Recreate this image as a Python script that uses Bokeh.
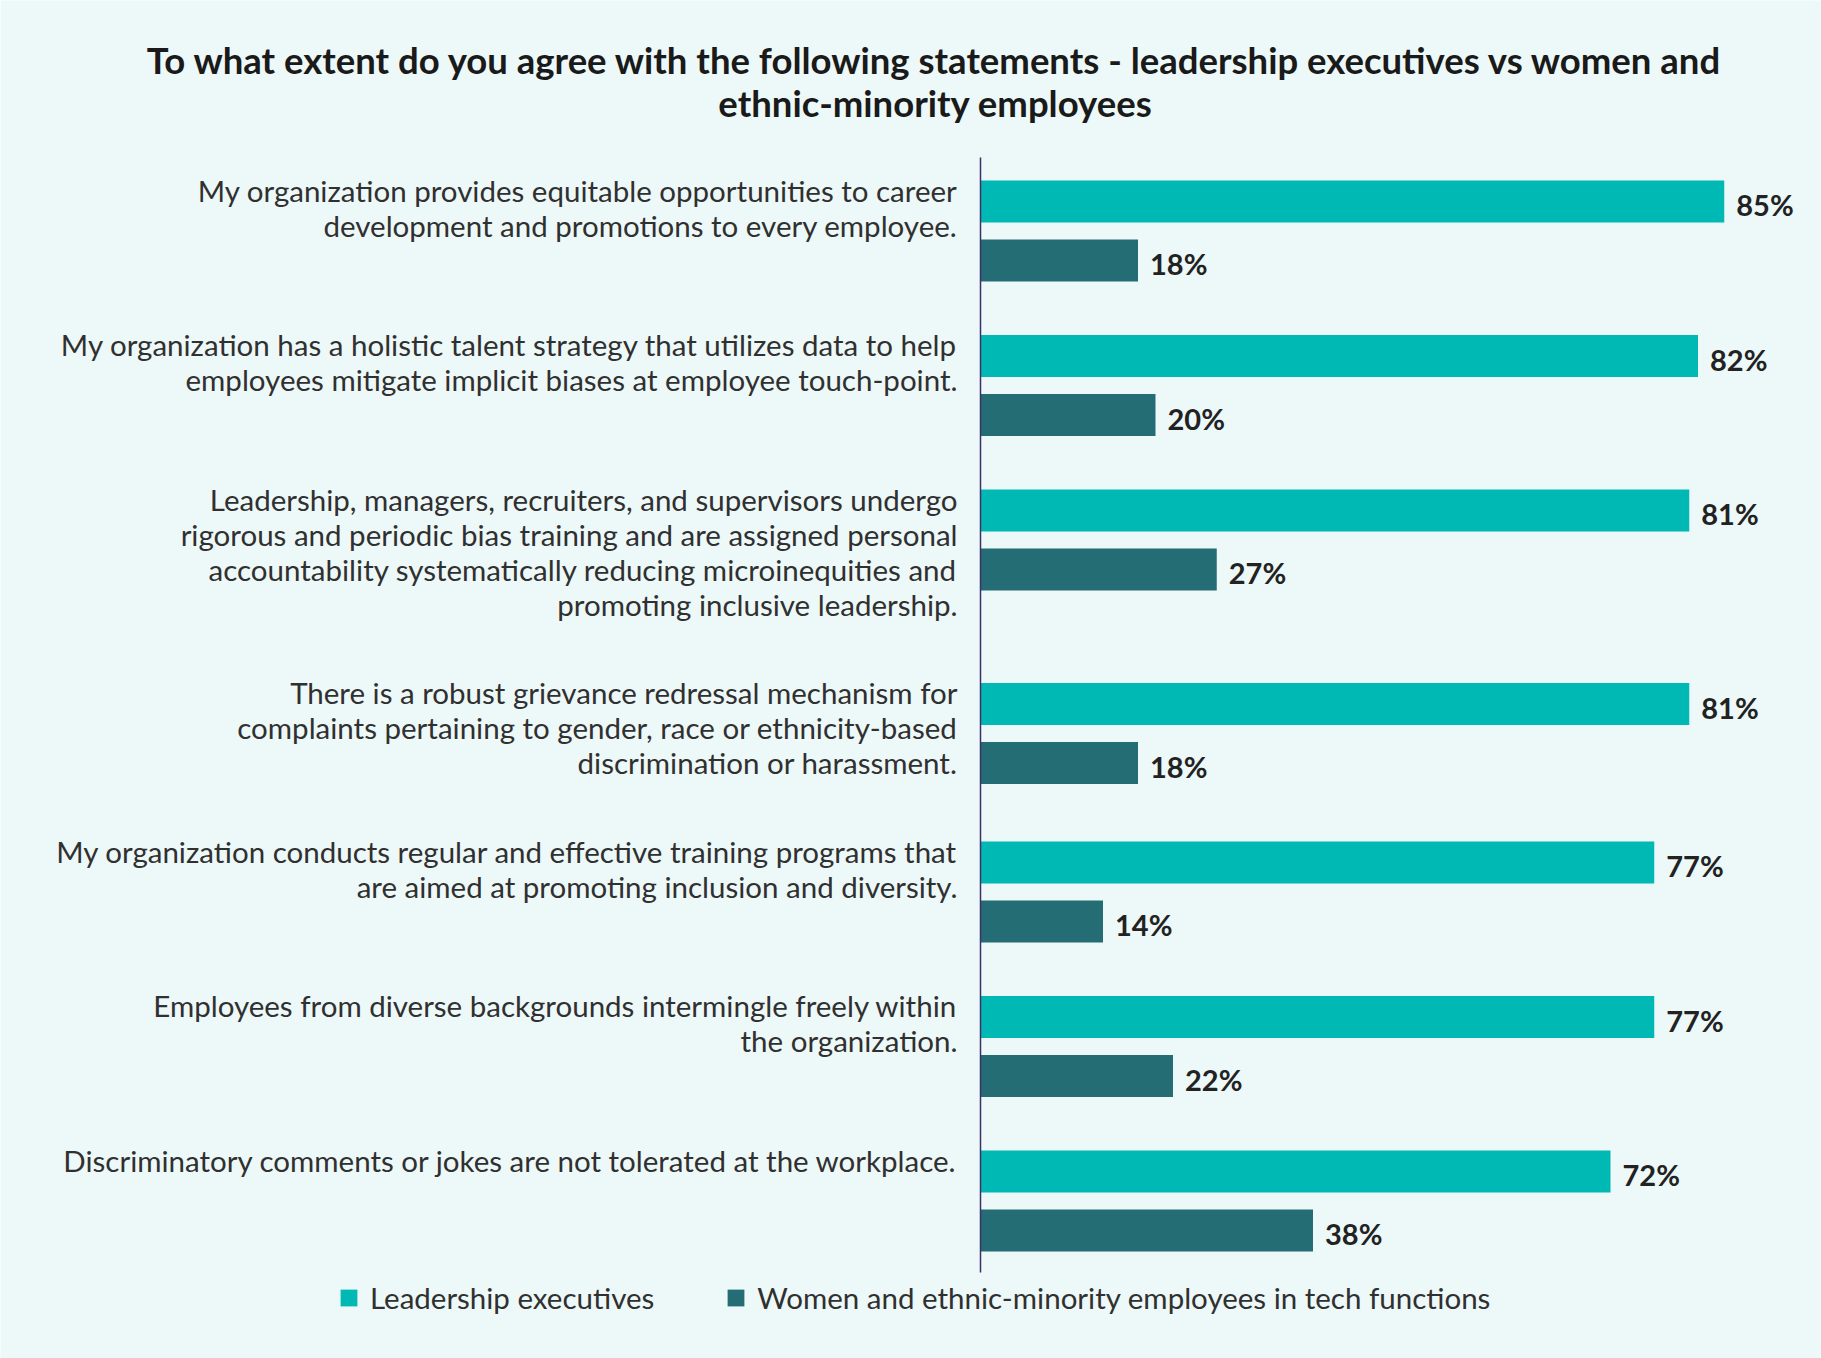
from bokeh.plotting import figure
from bokeh.models import Range1d, Legend, LegendItem, ColumnDataSource
from bokeh.core.properties import value
from bokeh.embed import file_html
from bokeh.resources import INLINE

# ---------------- data ----------------
TITLE = ("To what extent do you agree with the following statements - leadership executives vs women and\n"
         "ethnic-minority employees")

statements = [
    "My organization provides equitable opportunities to career\ndevelopment and promotions to every employee.",
    "My organization has a holistic talent strategy that utilizes data to help\nemployees mitigate implicit biases at employee touch-point.",
    "Leadership, managers, recruiters, and supervisors undergo\nrigorous and periodic bias training and are assigned personal\naccountability systematically reducing microinequities and\npromoting inclusive leadership.",
    "There is a robust grievance redressal mechanism for\ncomplaints pertaining to gender, race or ethnicity-based\ndiscrimination or harassment.",
    "My organization conducts regular and effective training programs that\nare aimed at promoting inclusion and diversity.",
    "Employees from diverse backgrounds intermingle freely within\nthe organization.",
    "Discriminatory comments or jokes are not tolerated at the workplace.",
]
leadership = [85, 82, 81, 81, 77, 77, 72]
women = [18, 20, 27, 18, 14, 22, 38]
series_names = ["Leadership executives", "Women and ethnic-minority employees in tech functions"]

# ---------------- style / layout ----------------
BG = "#EDF8F8"
C_LEAD = "#00B8B4"
C_WOMEN = "#246D75"
TEXT = "#303030"
FONT = "Lato"

W, H = 1821, 1358
PX_PER_PCT = 8.75
AXIS_PX = 980          # position of the zero line inside the figure
BAR_H = 42
BAR_GAP = 17
LINE_H = 35
GROUP_PAD = 53.5
FIRST_TOP = 180

# group tops derived from label heights
tops = []
t = FIRST_TOP
for s in statements:
    tops.append(t)
    n = s.count("\n") + 1
    t += max(2 * BAR_H + BAR_GAP, n * LINE_H) + GROUP_PAD

lead_y = [tp + BAR_H / 2 for tp in tops]
women_y = [tp + BAR_H * 1.5 + BAR_GAP for tp in tops]

src_lead = ColumnDataSource(dict(y=lead_y, v=leadership, lbl=[f"{v}%" for v in leadership]))
src_women = ColumnDataSource(dict(y=women_y, v=women, lbl=[f"{v}%" for v in women]))
src_stmt = ColumnDataSource(dict(y=tops, text=statements, x=[0] * len(statements)))

p = figure(width=W, height=H, output_backend="svg", toolbar_location=None,
           x_range=Range1d(-AXIS_PX / PX_PER_PCT, (W - AXIS_PX) / PX_PER_PCT),
           y_range=Range1d(H, 0),
           min_border=0)
p.background_fill_color = BG
p.border_fill_color = BG
p.outline_line_color = None
p.xaxis.visible = False
p.yaxis.visible = False
p.xgrid.visible = False
p.ygrid.visible = False

r_lead = p.hbar(y="y", left=0, right="v", height=BAR_H, source=src_lead,
                fill_color=C_LEAD, line_color=None)
r_women = p.hbar(y="y", left=0, right="v", height=BAR_H, source=src_women,
                 fill_color=C_WOMEN, line_color=None)

# zero line
p.segment(x0=[0], x1=[0], y0=[tops[0] - 23], y1=[women_y[-1] + BAR_H / 2 + 21],
          line_color="#3F2D6E", line_width=1.5)

# value labels
for src in (src_lead, src_women):
    p.text(x="v", y="y", text="lbl", source=src, x_offset=12, y_offset=3,
           text_align="left", text_baseline="middle",
           text_font=value(FONT), text_font_style="bold", text_font_size="29px",
           text_color="#222222")

# statement labels
p.text(x="x", y="y", text="text", source=src_stmt, x_offset=-23, y_offset=-8,
       text_align="right", text_baseline="top", text_line_height=1.0,
       text_font=value(FONT), text_font_size="29.5px", text_color=TEXT)

# title
p.text(x=[(935 - AXIS_PX) / PX_PER_PCT], y=[37], text=[TITLE],
       text_align="center", text_baseline="top", text_line_height=0.98,
       text_font=value(FONT), text_font_style="bold", text_font_size="36.5px",
       text_color="#1a1a1a")

legend = Legend(items=[LegendItem(label=series_names[0], renderers=[r_lead]),
                       LegendItem(label=series_names[1], renderers=[r_women])],
                location=(338, 43), orientation="horizontal",
                padding=0, margin=0, spacing=71,
                glyph_width=21, glyph_height=21, label_standoff=11,
                background_fill_alpha=0, border_line_alpha=0,
                label_text_font=FONT, label_text_font_size="29.5px",
                label_text_color=TEXT)
p.add_layout(legend)

open("out.html", "w").write(file_html(p, INLINE))
